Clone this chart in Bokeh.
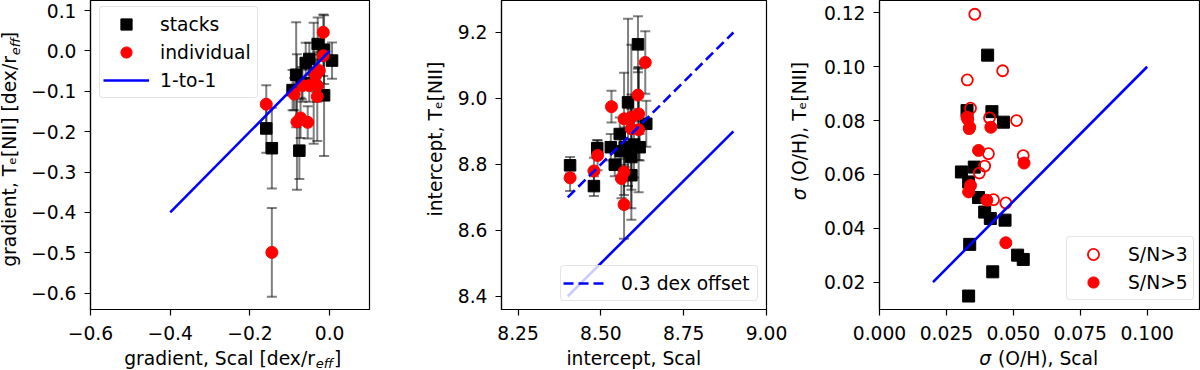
import math
from bokeh.plotting import figure
from bokeh.layouts import row, column
from bokeh.models import (Range1d, FixedTicker, CustomJSTickFormatter, Whisker, TeeHead,
                          ColumnDataSource, Legend, LegendItem)
from bokeh.core.properties import value
from bokeh.embed import file_html
from bokeh.resources import INLINE

# ---------------- data ----------------
# Panel 1: metallicity gradients
grad_stack_scal = [-0.159, -0.145, -0.076, -0.084, -0.093, -0.060, -0.051, -0.030, -0.014, 0.006, -0.014, -0.040, -0.070]
grad_stack_te   = [-0.192, -0.241, -0.247, -0.059, -0.097, -0.030, -0.020, 0.017, 0.003, -0.024, -0.110, -0.080, -0.080]
grad_stack_err  = [0.060, 0.100, 0.070, 0.130, 0.050, 0.050, 0.040, 0.066, 0.085, 0.045, 0.150, 0.150, 0.040]
grad_ind_scal = [-0.159, -0.145, -0.082, -0.073, -0.055, -0.016, -0.016, -0.035, -0.031, -0.051, -0.031, -0.089, -0.068, -0.026]
grad_ind_te   = [-0.132, -0.499, -0.176, -0.166, -0.177, 0.046, -0.012, -0.061, -0.086, -0.086, -0.113, -0.107, -0.086, -0.049]
grad_ind_err  = [0.047, 0.110, 0.168, 0.050, 0.040, 0.044, 0.050, 0.040, 0.040, 0.040, 0.110, 0.040, 0.040, 0.040]
grad_line_x = [-0.4, 0.0]
grad_line_y = [-0.4, 0.0]

# Panel 2: intercepts
int_stack_scal = [8.407, 8.479, 8.489, 8.530, 8.542, 8.557, 8.572, 8.582, 8.612, 8.637, 8.617, 8.592, 8.592, 8.560, 8.600]
int_stack_te   = [8.797, 8.734, 8.849, 8.852, 8.799, 8.892, 8.852, 8.988, 9.164, 8.923, 8.852, 8.822, 8.767, 8.840, 8.860]
int_stack_err  = [0.025, 0.030, 0.025, 0.040, 0.035, 0.050, 0.060, 0.254, 0.085, 0.070, 0.040, 0.190, 0.100, 0.050, 0.100]
int_ind_scal = [8.407, 8.479, 8.490, 8.532, 8.570, 8.592, 8.614, 8.592, 8.614, 8.612, 8.634, 8.570, 8.562, 8.570]
int_ind_te   = [8.759, 8.780, 8.827, 8.975, 8.938, 8.943, 8.953, 8.908, 8.905, 9.010, 9.109, 8.777, 8.757, 8.678]
int_ind_err  = [0.040, 0.040, 0.045, 0.048, 0.140, 0.220, 0.140, 0.060, 0.190, 0.080, 0.095, 0.070, 0.060, 0.104]
int_line_x = [8.4, 8.9]
int_line_y = [8.4, 8.9]
int_offset_y = [8.7, 9.2]

# Panel 3: scatter sigma(O/H)
sig_stack_scal = [0.0404, 0.0327, 0.0420, 0.0463, 0.0306, 0.0354, 0.0333, 0.0370, 0.0393, 0.0414, 0.0469, 0.0337, 0.0516, 0.0537, 0.0423, 0.0333]
sig_stack_te   = [0.1043, 0.0837, 0.0833, 0.0794, 0.0609, 0.0627, 0.0572, 0.0514, 0.0460, 0.0436, 0.0430, 0.0340, 0.0300, 0.0284, 0.0238, 0.0148]
sig_sn3_scal = [0.0356, 0.0460, 0.0328, 0.0340, 0.0411, 0.0512, 0.0537, 0.0407, 0.0393, 0.0373, 0.0426, 0.0472, 0.0335, 0.0330]
sig_sn3_te   = [0.1195, 0.0985, 0.0951, 0.0846, 0.0810, 0.0800, 0.0670, 0.0677, 0.0631, 0.0605, 0.0506, 0.0494, 0.0770, 0.0805]
sig_sn5_scal = [0.0327, 0.0337, 0.0416, 0.0370, 0.0540, 0.0340, 0.0333, 0.0401, 0.0472]
sig_sn5_te   = [0.0812, 0.0775, 0.0775, 0.0689, 0.0642, 0.0559, 0.0535, 0.0504, 0.0346]
sig_line_x = [0.02, 0.1]
sig_line_y = [0.02, 0.1]

# ticks
p1_xticks = [-0.6, -0.4, -0.2, 0.0]
p1_yticks = [0.1, 0.0, -0.1, -0.2, -0.3, -0.4, -0.5, -0.6]
p2_xticks = [8.25, 8.50, 8.75, 9.00]
p2_yticks = [8.4, 8.6, 8.8, 9.0, 9.2]
p3_xticks = [0.000, 0.025, 0.050, 0.075, 0.100]
p3_yticks = [0.02, 0.04, 0.06, 0.08, 0.10, 0.12]

# axis titles: (text, kind) runs; kind "main" = regular, "it" = italic, "sub" = small italic subscript
p1_xtitle = [("gradient, Scal [dex/r", "main"), ("eff", "sub"), ("]", "main")]
p1_ytitle = [("gradient, Tₑ[NII] [dex/r", "main"), ("eff", "sub"), ("]", "main")]
p2_xtitle = [("intercept, Scal", "main")]
p2_ytitle = [("intercept, Tₑ[NII]", "main")]
p3_xtitle = [("σ", "it"), (" (O/H), Scal", "main")]
p3_ytitle = [("σ", "it"), (" (O/H), Tₑ[NII]", "main")]

# ---------------- styling ----------------
FONT = "DejaVu Sans"
FS = 18.7
SFS = 13.0
SUB_SHIFT = 3.5
MID = 0.40       # distance from baseline to the middle of the text box, in em
GAP = 1.0        # small gap between runs
BLUE = "#0000ff"
RED = "#ff0000"
TOP_H = 349      # height of the row holding the panels
BOT_H = 21       # height of the row holding the x-axis titles
FRAME_H = 309

W = {' ': .318, ',': .318, '.': .318, '/': .337, '[': .390, ']': .390, '(': .390, ')': .390,
     'a': .613, 'c': .550, 'd': .635, 'e': .615, 'f': .352, 'g': .635, 'i': .278, 'l': .278,
     'n': .634, 'p': .635, 'r': .411, 's': .521, 't': .392, 'x': .592, 'S': .635, 'T': .611,
     'N': .748, 'I': .295, 'O': .787, 'H': .752, 'σ': .66, 'ₑ': .40}


def tw(s, size):
    return sum(W.get(c, 0.6) for c in s) * size


def make_fig(width, xr, yr, bl, br, xticks, yticks, xdig, ydig):
    p = figure(width=width, height=TOP_H, x_range=Range1d(*xr), y_range=Range1d(*yr),
               output_backend="svg", toolbar_location=None,
               min_border_left=bl, min_border_right=br, min_border_top=0,
               min_border_bottom=TOP_H - FRAME_H)
    p.grid.visible = False
    p.outline_line_color = "black"
    p.outline_line_width = 1.2
    p.background_fill_color = "white"
    p.border_fill_color = "white"
    for ax, ticks, dig, so in ((p.xaxis, xticks, xdig, 10), (p.yaxis, yticks, ydig, 8)):
        ax.ticker = FixedTicker(ticks=ticks, minor_ticks=[])
        ax.formatter = CustomJSTickFormatter(code="return tick.toFixed(%d).replace('-', '\u2212')" % dig)
        ax.axis_line_color = "black"
        ax.axis_line_width = 1.2
        ax.major_tick_line_color = "black"
        ax.major_tick_line_width = 1.2
        ax.major_tick_out = 6
        ax.major_tick_in = 0
        ax.minor_tick_line_color = None
        ax.major_label_text_font = FONT
        ax.major_label_text_font_size = "%spx" % FS
        ax.major_label_text_color = "black"
        ax.major_label_standoff = so
    return p


def text_fig(width, height):
    f = figure(width=width, height=height, x_range=Range1d(0, width), y_range=Range1d(0, height),
               output_backend="svg", toolbar_location=None,
               x_axis_location=None, y_axis_location=None,
               min_border_left=0, min_border_right=0, min_border_top=0, min_border_bottom=0)
    f.grid.visible = False
    f.outline_line_color = None
    f.background_fill_color = "white"
    f.border_fill_color = "white"
    return f


def draw_run(f, t, k, pos, base, vertical, align):
    size = SFS if k == 'sub' else FS
    style = 'italic' if k in ('sub', 'it') else 'normal'
    off = SUB_SHIFT if k == 'sub' else 0.0
    if vertical:
        xs, ys, ang = [base + off - MID * size], [pos], math.pi / 2
    else:
        xs, ys, ang = [pos], [base - off + MID * size], 0.0
    f.text(x=xs, y=ys, text=[t], angle=ang, text_font=value(FONT),
           text_font_size=value("%.1fpx" % size), text_font_style=style,
           text_color="black", text_align=align, text_baseline="middle")


def add_title(f, pieces, center, base, vertical):
    """The first run is right-aligned at a junction point, the others are left-aligned after it,
    so that the joins do not depend on estimated text widths."""
    sizes = [SFS if k == 'sub' else FS for _, k in pieces]
    if len(pieces) == 1:
        draw_run(f, pieces[0][0], pieces[0][1], center, base, vertical, "center")
        return
    total = sum(tw(t, s) for (t, _), s in zip(pieces, sizes)) + GAP * (len(pieces) - 1)
    junction = center - total / 2.0 + tw(pieces[0][0], sizes[0])
    draw_run(f, pieces[0][0], pieces[0][1], junction, base, vertical, "right")
    pos = junction + GAP
    for (t, k), size in zip(pieces[1:], sizes[1:]):
        # leading blanks are dropped by SVG text, so advance over them by hand
        stripped = t.lstrip(' ')
        pos += tw(t[:len(t) - len(stripped)], size)
        draw_run(f, stripped, k, pos, base, vertical, "left")
        pos += tw(stripped, size) + GAP


def add_err(p, xs, ys, es):
    src = ColumnDataSource(dict(x=xs, lo=[y - e for y, e in zip(ys, es)], hi=[y + e for y, e in zip(ys, es)]))
    kw = dict(line_color="black", line_alpha=0.5, line_width=2)
    w = Whisker(base="x", lower="lo", upper="hi", source=src, dimension="height",
                upper_head=TeeHead(size=10, **kw), lower_head=TeeHead(size=10, **kw), **kw)
    p.add_layout(w)


def style_legend(leg, pad, gw, gh, standoff, lw):
    leg.label_text_font = FONT
    leg.label_text_font_size = "%spx" % FS
    leg.label_text_color = "black"
    leg.padding = pad
    leg.margin = 0
    leg.spacing = 0
    leg.glyph_width = gw
    leg.glyph_height = gh
    leg.label_height = gh
    leg.label_standoff = standoff
    leg.label_width = lw
    leg.border_line_color = "#cccccc"
    leg.border_line_width = 1
    leg.background_fill_color = "white"
    leg.background_fill_alpha = 0.8
    if 'border_radius' in Legend.properties():
        try:
            leg.border_radius = 4
        except Exception:
            pass


# ---------------- panel 1 ----------------
p1 = make_fig(392, (-0.6, 0.1), (-0.6404, 0.1248), 59, 51, p1_xticks, p1_yticks, 1, 1)
add_err(p1, grad_stack_scal, grad_stack_te, grad_stack_err)
add_err(p1, grad_ind_scal, grad_ind_te, grad_ind_err)
r_st1 = p1.scatter(grad_stack_scal, grad_stack_te, marker="square", size=11.5, fill_color="black", line_color="black")
r_in1 = p1.scatter(grad_ind_scal, grad_ind_te, marker="circle", size=12, fill_color=RED, line_color=RED)
r_l1 = p1.line(grad_line_x, grad_line_y, line_color=BLUE, line_width=2.6)
leg1 = Legend(items=[LegendItem(label="stacks", renderers=[r_st1]),
                     LegendItem(label="individual", renderers=[r_in1]),
                     LegendItem(label="1-to-1", renderers=[r_l1])], location=(9, 211))
style_legend(leg1, 3, 46, 28, 11, 94)
p1.add_layout(leg1)

# ---------------- panel 2 ----------------
p2 = make_fig(340, (8.2, 9.0), (8.3597, 9.297), 51, 24, p2_xticks, p2_yticks, 2, 1)
add_err(p2, int_stack_scal, int_stack_te, int_stack_err)
add_err(p2, int_ind_scal, int_ind_te, int_ind_err)
p2.scatter(int_stack_scal, int_stack_te, marker="square", size=11.5, fill_color="black", line_color="black")
p2.scatter(int_ind_scal, int_ind_te, marker="circle", size=12, fill_color=RED, line_color=RED)
p2.line(int_line_x, int_line_y, line_color=BLUE, line_width=2.6)
r_off = p2.line(int_line_x, int_offset_y, line_color=BLUE, line_width=2.6, line_dash="10 5")
leg2 = Legend(items=[LegendItem(label="0.3 dex offset", renderers=[r_off])], location=(59, 8))
style_legend(leg2, 2, 44, 30, 14, 134)
p2.add_layout(leg2)

# ---------------- panel 3 ----------------
p3 = make_fig(380, (0.0, 0.11955), (0.0098, 0.1246), 57, 1, p3_xticks, p3_yticks, 3, 2)
p3.scatter(sig_stack_scal, sig_stack_te, marker="square", size=12, fill_color="black", line_color="black")
r_sn3 = p3.scatter(sig_sn3_scal, sig_sn3_te, marker="circle", size=11, fill_color=None, line_color=RED, line_width=1.8)
r_sn5 = p3.scatter(sig_sn5_scal, sig_sn5_te, marker="circle", size=12, fill_color=RED, line_color=RED)
p3.line(sig_line_x, sig_line_y, line_color=BLUE, line_width=2.6)
leg3 = Legend(items=[LegendItem(label="S/N>3", renderers=[r_sn3]),
                     LegendItem(label="S/N>5", renderers=[r_sn5])], location=(187, 9))
style_legend(leg3, 3, 46, 28, 12, 62)
p3.add_layout(leg3)

# ---------------- axis titles (separate strips) ----------------
yl1 = text_fig(28, TOP_H)
add_title(yl1, p1_ytitle, TOP_H - 155, 16.5, True)
yl2 = text_fig(30, TOP_H)
add_title(yl2, p2_ytitle, TOP_H - 156.5, 22.5, True)
yl3 = text_fig(30, TOP_H)
add_title(yl3, p3_ytitle, TOP_H - 155, 16.0, True)

xl1 = text_fig(420, BOT_H)
add_title(xl1, p1_xtitle, 232.0, 5.0, False)
xl2 = text_fig(370, BOT_H)
add_title(xl2, p2_xtitle, 633.3 - 420, 5.0, False)
xl3 = text_fig(410, BOT_H)
add_title(xl3, p3_xtitle, 1038 - 790, 5.0, False)

layout = column(row(yl1, p1, yl2, p2, yl3, p3), row(xl1, xl2, xl3))
open("out.html", "w").write(file_html(layout, INLINE))
